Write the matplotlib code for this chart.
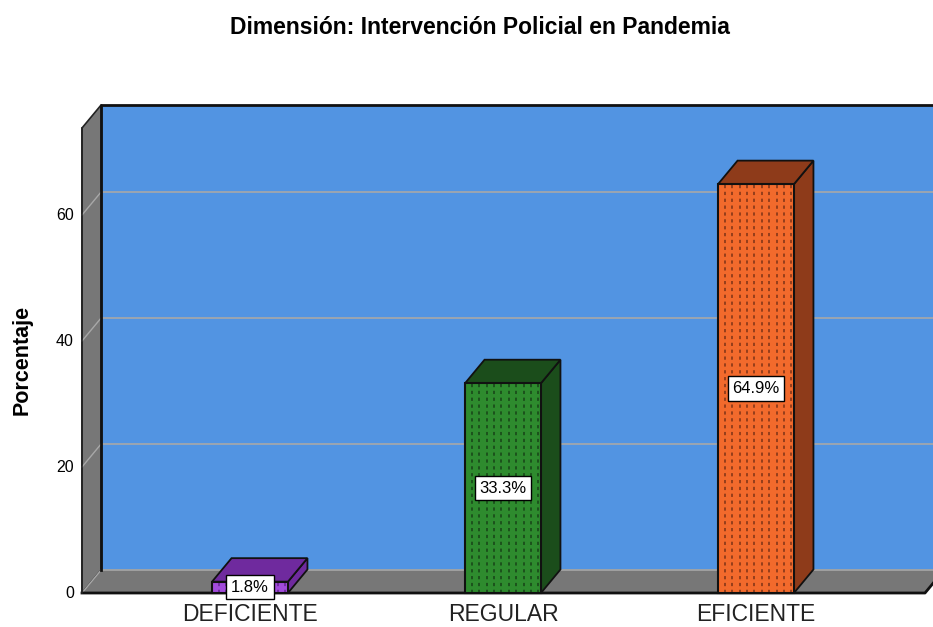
import matplotlib
matplotlib.use("Agg")
import matplotlib.pyplot as plt
from matplotlib.patches import Polygon
import numpy as np

plt.rcParams['font.family'] = ['Liberation Sans', 'DejaVu Sans']

# ---- data ----
categories = ["DEFICIENTE", "REGULAR", "EFICIENTE"]
values = [1.8, 33.3, 64.9]
labels = ["1.8%", "33.3%", "64.9%"]
yticks = [0, 20, 40, 60]
title = "Dimensión: Intervención Policial en Pandemia"
ylabel = "Porcentaje"

# ---- style ----
front_colors = ["#A24BDB", "#2E8B2E", "#F26A2C"]
dark_colors = ["#6F2A9E", "#1B4D1B", "#8E3B1A"]
pattern_colors = ["#6F2A9E", "#1B4D1B", "#8E3B1A"]
wall_blue = "#5294E2"
wall_gray = "#777777"
grid_col = "#A8A8A8"

W, H = 933, 627
fig = plt.figure(figsize=(W / 100, H / 100), dpi=100)
ax = fig.add_axes([0, 0, 1, 1])
ax.set_xlim(-250 / 253, (933 - 250) / 253)
ax.set_ylim(-34 / 6.3, 593 / 6.3)
ax.axis("off")

x0 = (82 - 250) / 253      # front left of plot
xr = (925 - 250) / 253     # front right of floor
dx = 19.5 / 253            # depth offset x
dy = 23.5 / 6.3            # depth offset y
ytop = (593 - 128) / 6.3   # top of wall
hw = 0.150                 # bar half width

# back wall
ax.add_patch(Polygon([(x0 + dx, dy), (xr + dx, dy), (xr + dx, ytop + dy), (x0 + dx, ytop + dy)],
                     closed=True, facecolor=wall_blue, edgecolor="none", zorder=1))
# gridlines on back wall and left wall
for t in yticks[1:]:
    ax.plot([x0 + dx, xr + dx], [t + dy, t + dy], color=grid_col, lw=1.2, zorder=2)
# left wall
ax.add_patch(Polygon([(x0, 0), (x0 + dx, dy), (x0 + dx, ytop + dy), (x0, ytop)],
                     closed=True, facecolor=wall_gray, edgecolor="#222222", lw=1.2, zorder=3))
for t in yticks:
    ax.plot([x0, x0 + dx], [t, t + dy], color=grid_col, lw=1.0, zorder=4)
# floor
ax.add_patch(Polygon([(x0, 0), (xr, 0), (xr + dx, dy), (x0 + dx, dy)],
                     closed=True, facecolor=wall_gray, edgecolor="none", zorder=3))
ax.plot([x0 + dx, xr + dx], [dy, dy], color=grid_col, lw=1.2, zorder=4)
ax.plot([x0, xr, xr + dx], [0, 0, dy], color="#111111", lw=2.0, zorder=4)
# back wall edges
ax.plot([x0 + dx, x0 + dx, xr + dx], [dy, ytop + dy, ytop + dy], color="#111111", lw=2.0, zorder=4)
ax.plot([x0, x0], [0, ytop], color="#222222", lw=1.2, zorder=4)

# bars
for i, (v, fc, dc, pc, lab) in enumerate(zip(values, front_colors, dark_colors, pattern_colors, labels)):
    xl, xrr = i - hw, i + hw
    z = 10
    # side
    ax.add_patch(Polygon([(xrr, 0), (xrr + dx, dy), (xrr + dx, v + dy), (xrr, v)],
                         closed=True, facecolor=dc, edgecolor="#111111", lw=1.3, zorder=z))
    # top
    ax.add_patch(Polygon([(xl, v), (xrr, v), (xrr + dx, v + dy), (xl + dx, v + dy)],
                         closed=True, facecolor=dc, edgecolor="#111111", lw=1.3, zorder=z))
    # front
    ax.add_patch(Polygon([(xl, 0), (xrr, 0), (xrr, v), (xl, v)],
                         closed=True, facecolor=fc, edgecolor="none", zorder=z + 1))
    # dotted pattern
    for px in np.arange(xl + 7.4 / 253 * 0.9, xrr - 0.01, 7.4 / 253):
        ax.plot([px, px], [0, v], color=pc, lw=1.3, linestyle=(0, (1.8, 2.0)), zorder=z + 2)
    ax.add_patch(Polygon([(xl, 0), (xrr, 0), (xrr, v), (xl, v)],
                         closed=True, facecolor="none", edgecolor="#111111", lw=1.5, zorder=z + 3))
    # value label
    ax.text(i, v / 2, lab, ha="center", va="center", fontsize=12, color="black", zorder=z + 5,
            bbox=dict(boxstyle="square,pad=0.28", facecolor="white", edgecolor="black", lw=1.0))
    # category label
    ax.text(i, -3.4, categories[i], ha="center", va="center", fontsize=16.5, color="#222222")

# y tick labels
for t in yticks:
    ax.text((74 - 250) / 253, t, str(t), ha="right", va="center", fontsize=11.5, color="black")

fig.text(480 / W, 1 - 27 / H, title, ha="center", va="center", fontsize=16.5, fontweight="bold")
fig.text(22 / W, 1 - 360 / H, ylabel, ha="center", va="center", rotation=90, fontsize=15.5, fontweight="bold")

fig.savefig("out.png", dpi=100)
